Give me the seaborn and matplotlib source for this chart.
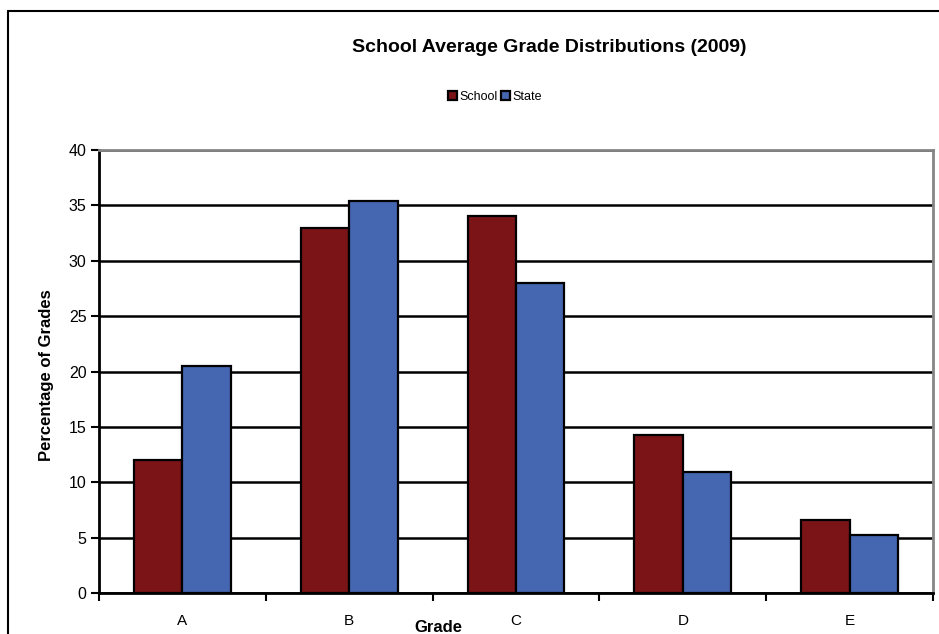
import pandas as pd
import seaborn as sns
import matplotlib.pyplot as plt
from matplotlib.lines import Line2D

# Data
grades = ["A", "B", "C", "D", "E"]
school = [12.0, 33.0, 34.0, 14.3, 6.6]
state = [20.5, 35.4, 28.0, 10.9, 5.2]

df = pd.DataFrame({
    "Grade": grades * 2,
    "Percentage": school + state,
    "Series": ["School"] * len(grades) + ["State"] * len(grades),
})

sns.set_theme(style="white")
plt.rcParams["font.family"] = ["Liberation Sans", "DejaVu Sans"]
plt.rcParams["text.color"] = "black"
plt.rcParams["xtick.color"] = "black"
plt.rcParams["ytick.color"] = "black"

fig = plt.figure(figsize=(9.39, 6.34), dpi=100)
ax = fig.add_axes([99 / 939, 41 / 634, 834 / 939, 443 / 634])

sns.barplot(data=df, x="Grade", y="Percentage", hue="Series",
            palette=["#7b1416", "#4566b0"], saturation=1, width=0.58, gap=0,
            edgecolor="black", linewidth=1.6, ax=ax)

ax.set_ylim(0, 40)
ax.set_xlim(-0.5, 4.5)
ax.set_yticks(range(0, 41, 5))
ax.yaxis.grid(True, color="black", linewidth=1.8)
ax.set_axisbelow(True)

# ticks: y outward, x at category boundaries
ax.tick_params(axis="y", direction="out", length=6, width=1.5, color="black",
               labelsize=11.5, pad=3, left=True)
ax.tick_params(axis="x", which="major", length=0, labelsize=11, pad=15)
ax.set_xticks([i - 0.5 for i in range(6)], minor=True)
ax.tick_params(axis="x", which="minor", direction="out", length=6, width=1.5,
               color="black", bottom=True)

for side in ["top", "right"]:
    ax.spines[side].set_color("#868686")
    ax.spines[side].set_linewidth(2)
for side in ["left", "bottom"]:
    ax.spines[side].set_color("black")
    ax.spines[side].set_linewidth(2)

ax.set_xlabel("")
ax.set_ylabel("")
fig.text(47 / 939, 1 - 375 / 634, "Percentage of Grades", rotation=90,
         ha="center", va="center", fontsize=12, fontweight="bold")
fig.text(438 / 939, 1 - 627 / 634, "Grade", ha="center", va="center",
         fontsize=12, fontweight="bold")

fig.text(549 / 939, 1 - 48 / 634, "School Average Grade Distributions (2009)",
         ha="center", va="center", fontsize=14, fontweight="bold")

handles, labels = ax.get_legend_handles_labels()
ax.legend(handles, labels, loc="center", bbox_to_anchor=(495 / 939, 1 - 97 / 634),
          bbox_transform=fig.transFigure, ncol=2, frameon=False, fontsize=9,
          handlelength=0.7, handleheight=0.7, handletextpad=0.2,
          columnspacing=0.3)

# outer chart border (cropped on right and bottom)
fig.add_artist(Line2D([8 / 939, 8 / 939], [0, 1 - 11 / 634],
                      transform=fig.transFigure, color="black", lw=1.5))
fig.add_artist(Line2D([8 / 939, 1], [1 - 11 / 634, 1 - 11 / 634],
                      transform=fig.transFigure, color="black", lw=1.5))

fig.savefig("out.png", dpi=100)
